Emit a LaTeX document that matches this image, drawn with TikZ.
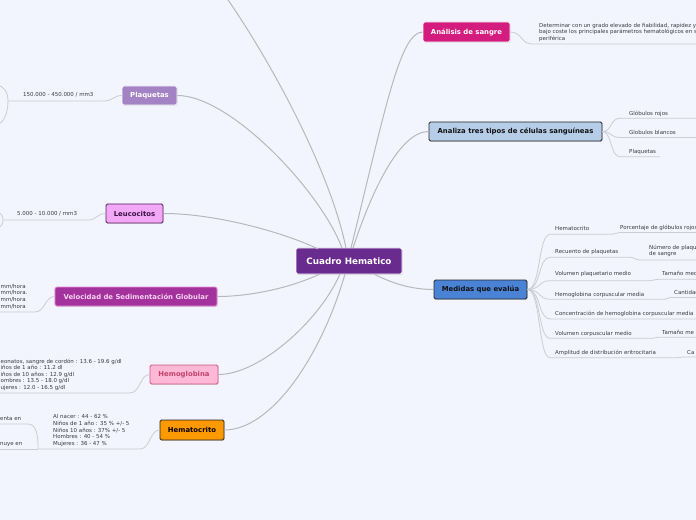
\documentclass[tikz,border=0pt]{standalone}
\usepackage{fontspec}
\setmainfont{DejaVu Sans}
\usetikzlibrary{shadows}
\definecolor{bg}{HTML}{F2F5FD}
\definecolor{linec}{HTML}{B8B8BC}
\definecolor{subc}{HTML}{CDCDD3}
\definecolor{leaftxt}{HTML}{3A3A44}
\definecolor{cCentral}{HTML}{6A2B8F}
\definecolor{cPlaq}{HTML}{A383C4}
\definecolor{cLeu}{HTML}{F2A8F7}
\definecolor{cLeuB}{HTML}{5A1C5C}
\definecolor{cLeuT}{HTML}{3A1040}
\definecolor{cVel}{HTML}{A4329C}
\definecolor{cVelB}{HTML}{E391D8}
\definecolor{cVelT}{HTML}{F7D2F2}
\definecolor{cHem}{HTML}{FFB8D6}
\definecolor{cHemB}{HTML}{D2557F}
\definecolor{cHemT}{HTML}{C2426C}
\definecolor{cHto}{HTML}{FF9900}
\definecolor{cDark}{HTML}{262626}
\definecolor{cAna}{HTML}{D31C7E}
\definecolor{cAz}{HTML}{B6CDE8}
\definecolor{cMed}{HTML}{4A82D6}
\definecolor{cTxt}{HTML}{111111}
\begin{document}
\begin{tikzpicture}[x=1bp,y=-1bp,
  topic/.style={rounded corners=1.5bp, inner sep=0pt, line width=0.8bp,
    font=\bfseries\fontsize{6.9}{8}\selectfont,
    drop shadow={shadow xshift=0.6bp,shadow yshift=-0.9bp,opacity=0.25}},
  leaf/.style={inner sep=0pt, text=leaftxt, font=\fontsize{5.5}{6.6}\selectfont},
  mainline/.style={draw=linec, line width=1bp},
  subline/.style={draw=subc, line width=0.8bp}]
\useasboundingbox[fill=bg] (0,0) rectangle (696,520);

% ---------- central node ----------
\node[topic, fill=cCentral, draw=white, text=white, minimum width=106bp, minimum height=26bp,
  font=\bfseries\fontsize{8.8}{10}\selectfont] (ch) at (349,261) {Cuadro Hematico};

% ---------- main topics ----------
\node[topic, fill=cPlaq, draw=white, text=white, minimum width=55bp, minimum height=19bp] (plaq) at (149.5,95.5) {Plaquetas};
\node[topic, fill=cLeu, draw=cLeuB, text=cLeuT, minimum width=57bp, minimum height=19bp] (leu) at (134.5,213.5) {Leucocitos};
\node[topic, fill=cVel, draw=cVelB, text=cVelT, minimum width=162bp, minimum height=19bp] (vel) at (136,296.5) {Velocidad de Sedimentación Globular};
\node[topic, fill=cHem, draw=cHemB, text=cHemT, minimum width=68bp, minimum height=19bp] (hem) at (184,374.5) {Hemoglobina};
\node[topic, fill=cHto, draw=cDark, text=black, minimum width=64bp, minimum height=20bp] (hto) at (192,430) {Hematocrito};
\node[topic, fill=cAna, draw=white, text=white, minimum width=87bp, minimum height=20bp] (ana) at (466.5,32) {Análisis de sangre};
\node[topic, fill=cAz, draw=cDark, text=cTxt, minimum width=173bp, minimum height=19bp] (az) at (515.5,131.5) {Analiza tres tipos de células sanguíneas};
\node[topic, fill=cMed, draw=cDark, text=cTxt, minimum width=93bp, minimum height=19bp] (med) at (480.5,289.5) {Medidas que evalúa};

% ---------- attachment points on the central node ----------
\coordinate (t1) at (346,248);
\coordinate (t2) at (342,248);
\coordinate (t3) at (318,249);
\coordinate (t4) at (351,248);
\coordinate (t5) at (353,248);
\coordinate (b1) at (374,274);
\coordinate (b2) at (320,274);
\coordinate (b3) at (340,274);
\coordinate (b4) at (345,274);
\coordinate (topout) at (226,-3);

% ---------- main connectors ----------
\draw[mainline] (t1) .. controls (330,170) and (270,60) .. (topout);
\draw[mainline] (t2) .. controls (320,190) and (230,95.5) .. (plaq.east);
\draw[mainline] (t3) .. controls (290,235) and (220,213.5) .. (leu.east);
\draw[mainline] (t4) .. controls (385,110) and (400,32) .. (ana.west);
\draw[mainline] (t5) .. controls (372,190) and (400,131.5) .. (az.west);
\draw[mainline] (b1) .. controls (395,285) and (415,289.5) .. (med.west);
\draw[mainline] (b2) .. controls (290,288) and (250,296.5) .. (vel.east);
\draw[mainline] (b3) .. controls (320,320) and (260,374.5) .. (hem.east);
\draw[mainline] (b4) .. controls (320,360) and (270,430) .. (hto.east);

% ---------- left leaves ----------
% Plaquetas
\node[leaf, anchor=base west] (l1) at (23,97) {150.000 - 450.000 / mm3};
\coordinate (l1a) at (8,101); \coordinate (l1b) at (104,101);
\coordinate (l1u) at (-4,85); \coordinate (l1d) at (-4,125);
\draw[subline] (plaq.west) .. controls (114,95.5) and (113,101) .. (l1b) -- (l1a);
\draw[subline] (l1a) .. controls (8,92) and (4,86) .. (l1u);
\draw[subline] (l1a) .. controls (8,112) and (4,124) .. (l1d);

% Leucocitos
\node[leaf, anchor=base west] (l2) at (17,216) {5.000 - 10.000 / mm3};
\coordinate (l2a) at (3,220); \coordinate (l2b) at (88,220);
\coordinate (l2u) at (-3,212); \coordinate (l2d) at (-3,228);
\draw[subline] (leu.west) .. controls (97,213.5) and (97,220) .. (l2b) -- (l2a);
\draw[subline] (l2a) .. controls (3,216) and (1,213) .. (l2u);
\draw[subline] (l2a) .. controls (3,224) and (1,227) .. (l2d);

% Velocidad
\node[leaf, anchor=north west, align=left] (l3) at (0.5,284) {mm/hora\\mm/hora.\\mm/hora\\mm/hora};
\coordinate (l3a) at (-3,312); \coordinate (l3b) at (35,312);
\draw[subline] (vel.west) .. controls (45,296.5) and (45,312) .. (l3b) -- (l3a);

% Hemoglobina
\node[leaf, anchor=north west, align=left] (l4) at (0.5,358.5) {eonatos, sangre de cordón : 13.6 - 19.6 g/dl\\iños de 1 año : 11.2 dl\\iños de 10 años : 12.9 g/dl\\ombres : 13.5 - 18.0 g/dl\\ujeres : 12.0 - 16.5 g/dl};
\coordinate (l4a) at (-3,393); \coordinate (l4b) at (130,393);
\draw[subline] (hem.west) .. controls (140,374.5) and (140,393) .. (l4b) -- (l4a);

% Hematocrito
\node[leaf, anchor=north west, align=left] (l5) at (53,414.5) {Al nacer : 44 - 62 \%\\Niños de 1 año : 35 \% +/- 5\\Niños 10 años : 37\% +/- 5\\Hombres : 40 - 54 \%\\Mujeres : 36 - 47 \%};
\coordinate (l5a) at (38,449); \coordinate (l5b) at (140,449);
\draw[subline] (hto.west) .. controls (150,430) and (150,449) .. (l5b) -- (l5a);
\node[leaf, anchor=base west] (l6) at (0,420) {enta en};
\coordinate (l6a) at (-3,424); \coordinate (l6b) at (28,424);
\draw[subline] (l6a) -- (l6b) .. controls (38,424) and (38,440) .. (l5a);
\node[leaf, anchor=base west] (l7) at (0,445.5) {nuye en};
\coordinate (l7a) at (-3,449);
\draw[subline] (l7a) -- (l5a);

% ---------- right leaves ----------
% Analisis de sangre
\node[leaf, anchor=north west, align=left] (r1) at (539,23) {Determinar con un grado elevado de fiabilidad, rapidez y\\bajo coste los principales parámetros hematológicos en s\\periférica};
\coordinate (r1a) at (532,44); \coordinate (r1b) at (700,44);
\draw[subline] (ana.east) .. controls (522,32) and (521,44) .. (r1a) -- (r1b);

% Analiza tres tipos
\node[leaf, anchor=base west] (r2) at (629,115.5) {Glóbulos rojos};
\node[leaf, anchor=base west] (r3) at (629,134.5) {Globulos blancos};
\node[leaf, anchor=base west] (r4) at (629,153.5) {Plaquetas};
\coordinate (r2a) at (620,118.3); \coordinate (r2b) at (700,118.3);
\coordinate (r3a) at (620,137.5); \coordinate (r3b) at (700,137.5);
\coordinate (r4a) at (620,156.7); \coordinate (r4b) at (660,156.7);
\draw[subline] (az.east) .. controls (612,131.5) and (610,118.3) .. (r2a) -- (r2b);
\draw[subline] (az.east) .. controls (612,131.5) and (610,137.5) .. (r3a) -- (r3b);
\draw[subline] (az.east) .. controls (612,131.5) and (610,156.7) .. (r4a) -- (r4b);

% Medidas que evalua
\node[leaf, anchor=base west] (m1) at (555,231) {Hematocrito};
\node[leaf, anchor=base west] (m2) at (555,253.5) {Recuento de plaquetas};
\node[leaf, anchor=base west] (m3) at (555,276) {Volumen plaquetario medio};
\node[leaf, anchor=base west] (m4) at (555,296) {Hemoglobina corpuscular media};
\node[leaf, anchor=base west] (m5) at (555,315.5) {Concentración de hemoglobina corpuscular media};
\node[leaf, anchor=base west] (m6) at (555,335) {Volumen corpuscular medio};
\node[leaf, anchor=base west] (m7) at (555,354.5) {Amplitud de distribución eritrocitaria};
\coordinate (m1a) at (550,234.3); \coordinate (m1b) at (612,234.3);
\coordinate (m2a) at (550,257.3); \coordinate (m2b) at (630,257.3);
\coordinate (m3a) at (550,280.7); \coordinate (m3b) at (650,280.7);
\coordinate (m4a) at (550,299.3); \coordinate (m4b) at (665,299.3);
\coordinate (m5a) at (550,319);   \coordinate (m5b) at (700,319);
\coordinate (m6a) at (550,338.3); \coordinate (m6b) at (652,338.3);
\coordinate (m7a) at (550,357.7); \coordinate (m7b) at (678,357.7);
\draw[subline] (med.east) .. controls (541,289.5) and (538,234.3) .. (m1a) -- (m1b);
\draw[subline] (med.east) .. controls (541,289.5) and (538,257.3) .. (m2a) -- (m2b);
\draw[subline] (med.east) .. controls (541,289.5) and (538,280.7) .. (m3a) -- (m3b);
\draw[subline] (med.east) .. controls (541,289.5) and (538,299.3) .. (m4a) -- (m4b);
\draw[subline] (med.east) .. controls (541,289.5) and (538,319) .. (m5a) -- (m5b);
\draw[subline] (med.east) .. controls (541,289.5) and (538,338.3) .. (m6a) -- (m6b);
\draw[subline] (med.east) .. controls (541,289.5) and (538,357.7) .. (m7a) -- (m7b);

% grandchildren
\node[leaf, anchor=base west] (g1) at (620,230) {Porcentaje de glóbulos rojos};
\coordinate (g1a) at (620,232.5); \coordinate (g1b) at (700,232.5);
\draw[subline] (m1b) .. controls (616,234.3) and (616,232.5) .. (g1a) -- (g1b);
\node[leaf, anchor=north west, align=left] (g2) at (649,244.5) {Número de plaque\\de sangre};
\coordinate (g2a) at (640,260); \coordinate (g2b) at (700,260);
\draw[subline] (m2b) .. controls (635,257.3) and (635,260) .. (g2a) -- (g2b);
\node[leaf, anchor=base west] (g3) at (662,275.5) {Tamaño med};
\coordinate (g3a) at (658,279.3); \coordinate (g3b) at (700,279.3);
\draw[subline] (m3b) .. controls (654,280.7) and (654,279.3) .. (g3a) -- (g3b);
\node[leaf, anchor=base west] (g4) at (674,294.5) {Cantidad};
\coordinate (g4a) at (670,297.5); \coordinate (g4b) at (700,297.5);
\draw[subline] (m4b) .. controls (668,299.3) and (668,297.5) .. (g4a) -- (g4b);
\node[leaf, anchor=base west] (g6) at (662,334) {Tamaño me};
\coordinate (g6a) at (658,337.3); \coordinate (g6b) at (700,337.3);
\draw[subline] (m6b) .. controls (655,338.3) and (655,337.3) .. (g6a) -- (g6b);
\node[leaf, anchor=base west] (g7) at (687,354) {Ca};
\coordinate (g7a) at (683,357); \coordinate (g7b) at (700,357);
\draw[subline] (m7b) .. controls (681,357.7) and (681,357) .. (g7a) -- (g7b);
\end{tikzpicture}
\end{document}
